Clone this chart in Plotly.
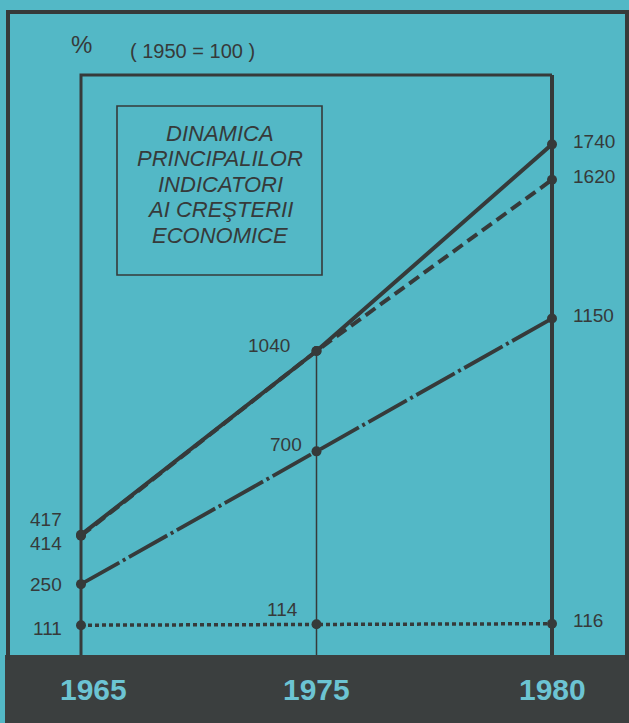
import plotly.graph_objects as go

# ---- data ----
years = ["1965", "1975", "1980"]
solid_vals = [417, 1040, 1740]
dashed_vals = [414, 1040, 1620]
dashdot_vals = [250, 700, 1150]
dotted_vals = [111, 114, 116]
title_lines = ["DINAMICA", "PRINCIPALILOR", "INDICATORI", "AI CREŞTERII", "ECONOMICE"]
unit_label = "%"
base_label = "( 1950 = 100 )"

# ---- style ----
W, H = 629, 723
ML, MR, MT, MB = 81, 77, 75, 68
PW, PH = W - ML - MR, H - MT - MB
BG = "#53b8c6"
INK = "#363a3a"
BAND = "#3b3f3f"
YEAR_COL = "#6cc4d3"
Y_RANGE = [10, 1975]
LABEL_FONT = dict(family="Liberation Sans, Arial, sans-serif", size=19, color=INK)

xpos = list(range(len(years)))


def px_x(p):
    return (p - ML) / PW


def px_y(p):
    return (H - MB - p) / PH


fig = go.Figure()

series = [
    (solid_vals, "solid", 4),
    (dashed_vals, "12px,6px", 4),
    (dashdot_vals, "44px,4px,3px,4px", 3.8),
    (dotted_vals, "4px,3px", 3.5),
]
for vals, dash, w in series:
    fig.add_trace(go.Scatter(
        x=xpos, y=vals, mode="lines+markers",
        line=dict(color=INK, width=w, dash=dash),
        marker=dict(color=INK, size=10),
        hoverinfo="y", showlegend=False, cliponaxis=False,
    ))

shapes = []
# dark band at bottom
shapes.append(dict(type="rect", xref="paper", yref="paper",
                   x0=px_x(5), x1=px_x(W + 10), y0=px_y(H + 10), y1=px_y(655),
                   fillcolor=BAND, line=dict(width=0), layer="below"))
# outer frame (left, top, right)
shapes.append(dict(type="path", xref="paper", yref="paper",
                   path=f"M {px_x(8)},{px_y(660)} L {px_x(8)},{px_y(12)} L {px_x(627)},{px_y(12)} L {px_x(627)},{px_y(660)}",
                   line=dict(color=INK, width=4)))
# inner plot frame
shapes.append(dict(type="path", xref="paper", yref="paper",
                   path="M 0,0 L 0,1 L 1,1",
                   line=dict(color=INK, width=3)))
shapes.append(dict(type="line", xref="paper", yref="paper",
                   x0=1, x1=1, y0=0, y1=1, line=dict(color=INK, width=4)))
# title box
shapes.append(dict(type="rect", xref="paper", yref="paper",
                   x0=px_x(117), x1=px_x(322), y0=px_y(275), y1=px_y(106),
                   line=dict(color=INK, width=1.6)))
# drop line at middle year
shapes.append(dict(type="line", xref="x", yref="y",
                   x0=xpos[1], x1=xpos[1], y0=Y_RANGE[0], y1=solid_vals[1],
                   line=dict(color=INK, width=1.5), layer="below"))

annotations = []
# unit labels
annotations.append(dict(xref="paper", yref="paper", x=px_x(69), y=px_y(44),
                        xanchor="left", yanchor="middle", showarrow=False,
                        text=unit_label, font=dict(family="Liberation Sans, Arial", size=24, color=INK)))
annotations.append(dict(xref="paper", yref="paper", x=px_x(128), y=px_y(51),
                        xanchor="left", yanchor="middle", showarrow=False,
                        text=base_label, font=dict(family="Liberation Sans, Arial", size=20, color=INK)))
# title, one annotation per line
for k, line in enumerate(title_lines):
    annotations.append(dict(xref="paper", yref="paper", x=px_x(220), y=px_y(133 + 25.5 * k),
                            xanchor="center", yanchor="middle", showarrow=False,
                            text=line,
                            font=dict(family="Liberation Sans, Arial", size=22, color=INK, style="italic")))

# value labels
left_shift = {0: 15, 1: -8, 2: 0, 3: -3}
all_series = [solid_vals, dashed_vals, dashdot_vals, dotted_vals]
for i, vals in enumerate(all_series):
    annotations.append(dict(x=xpos[0], y=vals[0], xref="x", yref="y",
                            text=str(vals[0]), showarrow=False,
                            xanchor="right", yanchor="middle", xshift=-17, yshift=left_shift[i],
                            font=LABEL_FONT))
    annotations.append(dict(x=xpos[2], y=vals[2], xref="x", yref="y",
                            text=str(vals[2]), showarrow=False,
                            xanchor="left", yanchor="middle", xshift=19, yshift=3,
                            font=LABEL_FONT))
mid_offsets = {0: (-25, 5), 2: (-13, 7), 3: (-17, 15)}
for i, vals in enumerate(all_series):
    if i not in mid_offsets:
        continue
    xs, ys = mid_offsets[i]
    annotations.append(dict(x=xpos[1], y=vals[1], xref="x", yref="y",
                            text=str(vals[1]), showarrow=False,
                            xanchor="right", yanchor="middle", xshift=xs, yshift=ys,
                            font=LABEL_FONT))

# year labels in band
year_shift = [12, 0, 0]
for xp, yr, s in zip(xpos, years, year_shift):
    annotations.append(dict(x=xp, y=px_y(689), xref="x", yref="paper",
                            text=f"<b>{yr}</b>", showarrow=False,
                            xanchor="center", yanchor="middle", xshift=s,
                            font=dict(family="Liberation Sans Narrow, Liberation Sans, Arial", size=30, color=YEAR_COL)))

fig.update_layout(
    width=W, height=H, autosize=False,
    margin=dict(l=ML, r=MR, t=MT, b=MB, pad=0),
    paper_bgcolor=BG, plot_bgcolor=BG,
    shapes=shapes, annotations=annotations,
    xaxis=dict(range=[xpos[0], xpos[-1]], showgrid=False, zeroline=False,
               tickvals=xpos, ticktext=years,
               showticklabels=False, ticks="", showline=False),
    yaxis=dict(range=Y_RANGE, showgrid=False, zeroline=False,
               showticklabels=False, ticks="", showline=False),
)

fig.write_html("out.html", config={"displayModeBar": False},
               post_script="document.body.style.margin='0px';")
